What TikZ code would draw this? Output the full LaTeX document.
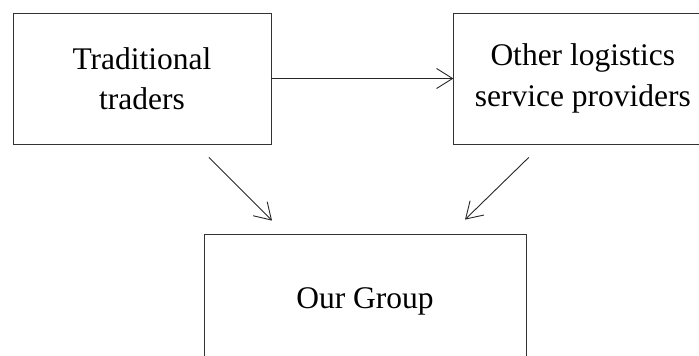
\documentclass[tikz,border=0pt]{standalone}
\usepackage{fontspec}
\setmainfont{Liberation Serif}
\usetikzlibrary{arrows.meta,positioning}

\begin{document}
\begin{tikzpicture}[
    x=1pt, y=-1pt,
    node distance=182pt,
    party/.style={draw=black!80, line width=0.8pt, align=center, inner sep=0pt,
        minimum width=258pt, minimum height=131pt, font=\fontsize{31.5}{40.5}\selectfont},
    groupbox/.style={party, minimum width=322pt, minimum height=134pt},
    arrow/.style={-{Straight Barb[length=16pt, width=20pt, line width=0.9pt]}, line width=0.9pt, black!85}
]
    \useasboundingbox (0,0) rectangle (699,356);

    \node[party] (trad) at (142,78.5) {Traditional\\traders};
    \node[party, right=of trad] (other) {Other logistics\\service providers};
    \node[groupbox] (group) at (365,301) {Our Group};

    \draw[arrow] (trad) -- (other);
    \draw[arrow] ([xshift=67pt, yshift=-13pt]trad.south) -- ([xshift=-93pt, yshift=13pt]group.north);
    \draw[arrow] ([xshift=-54pt, yshift=-13pt]other.south) -- ([xshift=100pt, yshift=14pt]group.north);
\end{tikzpicture}
\end{document}
